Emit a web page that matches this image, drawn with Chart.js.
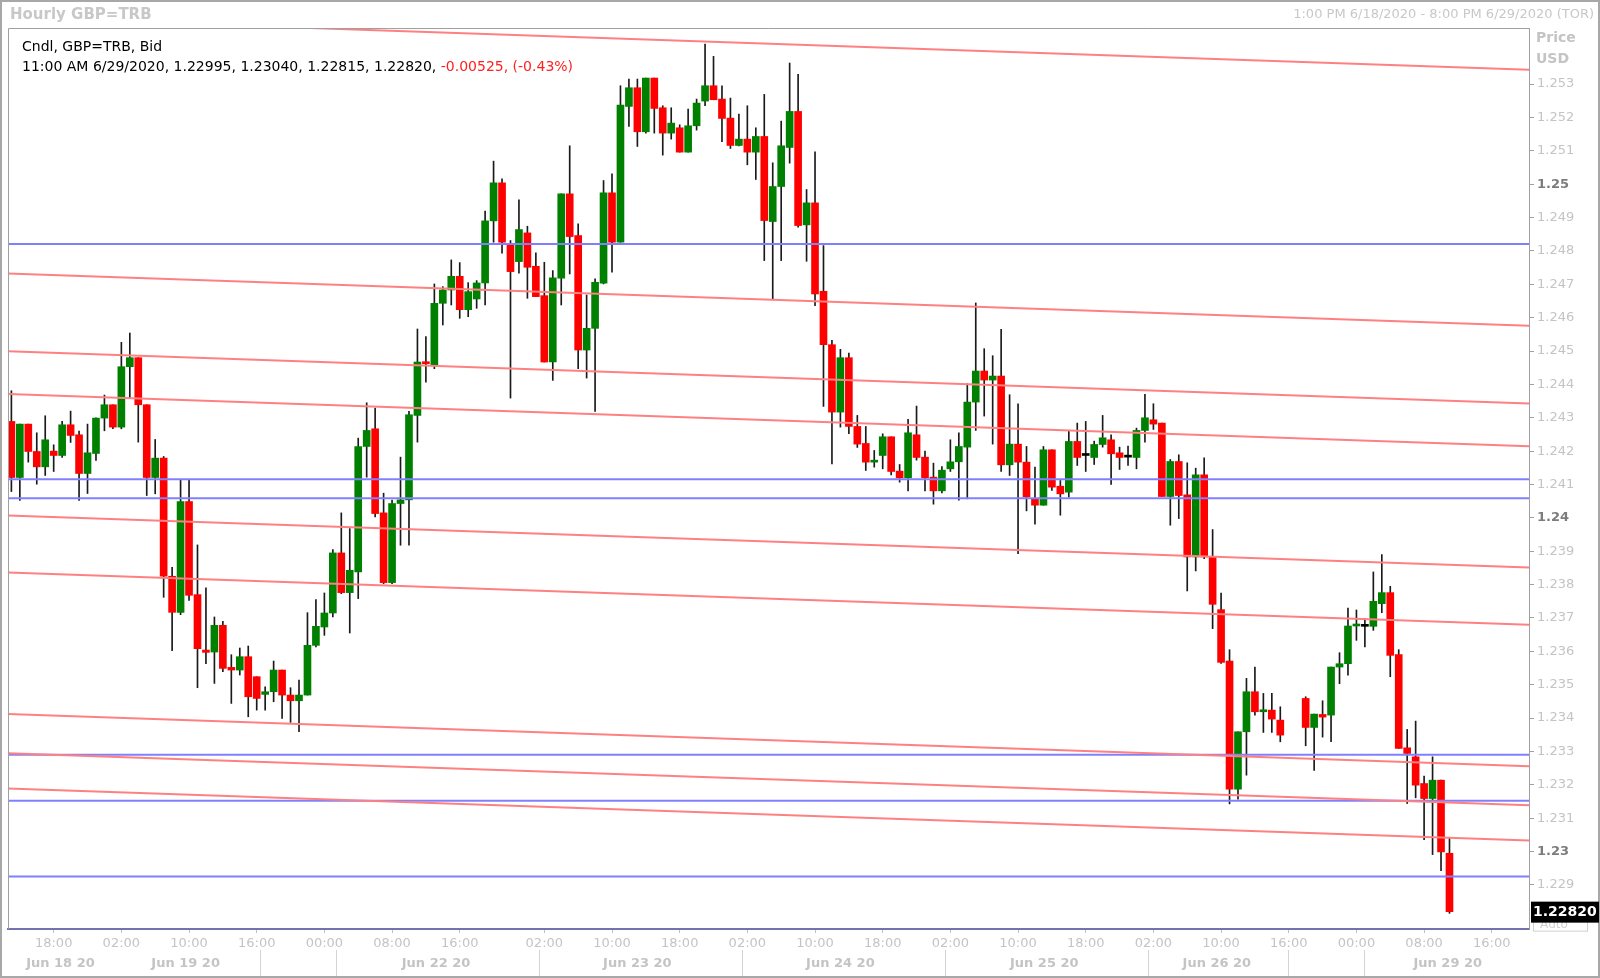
<!DOCTYPE html>
<html>
<head>
<meta charset="utf-8">
<script src="https://cdn.jsdelivr.net/npm/chart.js@4.4.1/dist/chart.umd.min.js"></script>
<style>
  html, body { margin: 0; padding: 0; background: #fff; }
</style>
</head>
<body>
<canvas id="chart" width="1600" height="978"></canvas>
<script>
// hourly GBP=TRB bid candles, one slot per hour (null = no bar)
const opens = [
  1.24289,1.24121,1.24281,1.24199,1.24153,1.24200,1.24187,1.24279,1.24249,1.24133,
  1.24193,1.24299,1.24339,1.24272,1.24453,1.24480,1.24339,1.24121,1.24179,1.23825,
  1.23717,1.24049,1.23770,1.23604,1.23598,1.23678,1.23552,1.23544,1.23584,1.23524,
  1.23471,1.23479,1.23544,1.23469,1.23452,1.23469,1.23618,1.23673,1.23715,1.23895,
  1.23776,1.23838,1.24214,1.24267,1.24015,1.23806,1.24043,1.24054,1.24307,1.24467,
  1.24459,1.24643,1.24683,1.24724,1.24624,1.24656,1.24704,1.24890,1.25004,1.24818,
  1.24768,1.24854,1.24754,1.24666,1.24467,1.24718,1.24971,1.24846,1.24503,1.24568,
  1.24703,1.24974,1.24826,1.25233,1.25289,1.25157,1.25318,1.25229,1.25153,1.25169,
  1.25096,1.25175,1.25249,1.25295,1.25255,1.25198,1.25116,1.25135,1.25096,1.25143,
  1.24888,1.24993,1.25110,1.25218,1.24878,1.24944,1.24679,1.24519,1.24317,1.24480,
  1.24274,1.24223,1.24167,1.24187,1.24243,1.24140,1.24120,1.24249,1.24182,1.24122,
  1.24081,1.24147,1.24168,1.24212,1.24347,1.24440,1.24413,1.24425,1.24159,1.24221,
  1.24167,1.24058,1.24038,1.24204,1.24095,1.24077,1.24229,1.24187,1.24181,1.24220,
  1.24234,1.24195,1.24182,1.24181,1.24262,1.24294,1.24284,1.24064,1.24169,1.24069,
  1.23883,1.24129,1.23883,1.23725,1.23571,1.23187,1.23359,1.23479,1.23419,1.23424,
  1.23394,null,null,1.23459,1.23372,1.23411,1.23409,1.23553,1.23563,1.23676,
  1.23675,1.23675,1.23743,1.23776,1.23590,1.23311,1.23284,1.23204,1.23159,1.23214,
  1.22995
];
const highs = [
  1.24381,1.24281,1.24281,1.24255,1.24306,1.24219,1.24289,1.24320,1.24260,1.24281,
  1.24300,1.24368,1.24339,1.24526,1.24554,1.24480,1.24339,1.24235,1.24184,1.23852,
  1.24113,1.24113,1.23919,1.23790,1.23703,1.23690,1.23590,1.23610,1.23616,1.23524,
  1.23494,1.23571,1.23544,1.23491,1.23514,1.23716,1.23755,1.23775,1.23905,1.24015,
  1.23968,1.24239,1.24345,1.24329,1.24074,1.24053,1.24182,1.24319,1.24566,1.24543,
  1.24701,1.24693,1.24773,1.24765,1.24705,1.24711,1.24919,1.25069,1.25016,1.24831,
  1.24953,1.24874,1.24794,1.24766,1.24741,1.24971,1.25115,1.24881,1.24668,1.24716,
  1.25011,1.25031,1.25295,1.25315,1.25315,1.25318,1.25318,1.25235,1.25229,1.25178,
  1.25225,1.25255,1.25420,1.25383,1.25295,1.25258,1.25210,1.25235,1.25169,1.25269,
  1.25064,1.25189,1.25363,1.25329,1.24984,1.25097,1.24816,1.24532,1.24505,1.24494,
  1.24307,1.24274,1.24202,1.24252,1.24243,1.24160,1.24295,1.24335,1.24200,1.24164,
  1.24154,1.24234,1.24255,1.24402,1.24644,1.24507,1.24486,1.24565,1.24369,1.24342,
  1.24214,1.24152,1.24214,1.24204,1.24112,1.24262,1.24284,1.24289,1.24230,1.24307,
  1.24249,1.24212,1.24215,1.24269,1.24370,1.24342,1.24284,1.24175,1.24189,1.24165,
  1.24149,1.24180,1.23965,1.23775,1.23605,1.23359,1.23519,1.23553,1.23474,1.23474,
  1.23434,null,null,1.23464,1.23412,1.23452,1.23553,1.23596,1.23730,1.23724,
  1.23698,1.23838,1.23890,1.23795,1.23605,1.23366,1.23391,1.23226,1.23284,1.23214,
  1.23040
];
const lows = [
  1.24079,1.24052,1.24167,1.24101,1.24127,1.24139,1.24181,1.24226,1.24052,1.24073,
  1.24172,1.24261,1.24267,1.24267,1.24358,1.24227,1.24067,1.24072,1.23762,1.23602,
  1.23710,1.23753,1.23491,1.23563,1.23504,1.23539,1.23444,1.23529,1.23404,1.23424,
  1.23424,1.23449,1.23399,1.23387,1.23359,1.23469,1.23613,1.23648,1.23703,1.23773,
  1.23655,1.23758,1.24122,1.24003,1.23803,1.23803,1.23918,1.23918,1.24227,1.24407,
  1.24447,1.24578,1.24638,1.24598,1.24603,1.24628,1.24638,1.24826,1.24793,1.24359,
  1.24733,1.24658,1.24663,1.24467,1.24412,1.24638,1.24731,1.24447,1.24419,1.24319,
  1.24701,1.24736,1.24826,1.25173,1.25113,1.25153,1.25153,1.25087,1.25135,1.25096,
  1.25096,1.25162,1.25235,1.25253,1.25127,1.25107,1.25115,1.25058,1.25014,1.24771,
  1.24656,1.24771,1.25063,1.24871,1.24769,1.24636,1.24334,1.24162,1.24272,1.24252,
  1.24211,1.24142,1.24152,1.24147,1.24129,1.24107,1.24081,1.24173,1.24081,1.24041,
  1.24075,1.24139,1.24053,1.24057,1.24262,1.24305,1.24221,1.24139,1.24127,1.23893,
  1.24021,1.23981,1.24038,1.24082,1.24008,1.24062,1.24157,1.24139,1.24160,1.24212,
  1.24100,1.24145,1.24157,1.24147,1.24227,1.24265,1.24064,1.23978,1.23998,1.23781,
  1.23841,1.23878,1.23668,1.23564,1.23143,1.23157,1.23229,1.23409,1.23357,1.23357,
  1.23329,null,null,1.23317,1.23243,1.23343,1.23329,1.23503,1.23529,1.23633,
  1.23613,1.23663,1.23716,1.23524,1.23309,1.23144,1.23161,1.23036,1.22991,1.22943,
  1.22815
];
const closes = [
  1.24121,1.24281,1.24199,1.24153,1.24234,1.24187,1.24279,1.24247,1.24133,1.24195,
  1.24299,1.24339,1.24272,1.24453,1.24480,1.24339,1.24121,1.24179,1.23825,1.23717,
  1.24049,1.23768,1.23608,1.23597,1.23678,1.23549,1.23544,1.23584,1.23464,1.23459,
  1.23479,1.23544,1.23469,1.23452,1.23469,1.23618,1.23675,1.23715,1.23895,1.23776,
  1.23843,1.24214,1.24262,1.24013,1.23806,1.24043,1.24054,1.24309,1.24467,1.24462,
  1.24643,1.24683,1.24724,1.24624,1.24678,1.24704,1.24890,1.25004,1.24826,1.24738,
  1.24864,1.24751,1.24663,1.24467,1.24719,1.24971,1.24843,1.24503,1.24568,1.24706,
  1.24974,1.24826,1.25237,1.25289,1.25157,1.25318,1.25227,1.25153,1.25183,1.25096,
  1.25175,1.25243,1.25295,1.25253,1.25197,1.25116,1.25135,1.25096,1.25143,1.24891,
  1.24993,1.25115,1.25218,1.24876,1.24944,1.24671,1.24519,1.24317,1.24480,1.24274,
  1.24221,1.24167,1.24173,1.24243,1.24139,1.24120,1.24255,1.24181,1.24120,1.24081,
  1.24143,1.24168,1.24214,1.24347,1.24440,1.24413,1.24425,1.24159,1.24221,1.24167,
  1.24063,1.24038,1.24204,1.24092,1.24072,1.24229,1.24181,1.24187,1.24220,1.24240,
  1.24192,1.24181,1.24182,1.24262,1.24300,1.24281,1.24064,1.24169,1.24067,1.23883,
  1.24129,1.23883,1.23741,1.23567,1.23187,1.23359,1.23479,1.23419,1.23424,1.23397,
  1.23349,null,null,1.23372,1.23412,1.23403,1.23553,1.23563,1.23676,1.23678,
  1.23675,1.23750,1.23776,1.23588,1.23309,1.23294,1.23199,1.23159,1.23214,1.22999,
  1.22820
];

// drawn levels: horizontal (blue) and falling channel lines (red, price at left / right edge)
const levels = [1.24821, 1.24116, 1.24059, 1.23290, 1.23152, 1.22925];
const trendStart = [1.25499, 1.24732, 1.24499, 1.24371, 1.24007, 1.23836, 1.23412, 1.23295, 1.23189];
const trendEnd   = [1.25343, 1.24576, 1.24343, 1.24215, 1.23851, 1.23680, 1.23256, 1.23139, 1.23033];

// axis labels
const timeSlots  = [5, 13, 21, 29, 37, 45, 53, 63, 71, 79, 87, 95, 103, 111, 119, 127, 135, 143, 151, 159, 167, 175];
const timeLabels = ['18:00','02:00','10:00','16:00','00:00','08:00','16:00','02:00','10:00','18:00','02:00',
                    '10:00','18:00','02:00','10:00','18:00','02:00','10:00','16:00','00:00','08:00','16:00'];
const dateSlots  = [5.8, 20.6, 50.2, 74, 98, 122.1, 142.5, 169.8];
const dateLabels = ['Jun 18 20','Jun 19 20','Jun 22 20','Jun 23 20','Jun 24 20','Jun 25 20','Jun 26 20','Jun 29 20'];
const daySeps    = [29.4, 38.4, 62.4, 86.4, 110.4, 134.4, 151, 160];
const priceTicks = [1.229,1.230,1.231,1.232,1.233,1.234,1.235,1.236,1.237,1.238,1.239,1.240,1.241,
                    1.242,1.243,1.244,1.245,1.246,1.247,1.248,1.249,1.250,1.251,1.252,1.253];

const lastTime = '11:00 AM 6/29/2020';
const lastChange = '-0.00525, (-0.43%)';

const xMin = -0.4, xMax = 179.4;
const yMin = 1.22768, yMax = 1.25468;
const FONT = '"DejaVu Sans", Verdana, sans-serif';

const candles = [];
opens.forEach((o, i) => {
  if (o === null) return;
  candles.push({ x: i, o: o, h: highs[i], l: lows[i], c: closes[i] });
});
const bodyColors = candles.map(k => k.c > k.o ? '#008000' : (k.c < k.o ? '#ff0000' : '#000000'));

const datasets = [];
trendStart.forEach((p, i) => {
  datasets.push({
    type: 'line', order: 0,
    data: [{ x: xMin, y: p }, { x: xMax, y: trendEnd[i] }],
    borderColor: '#ff8080', borderWidth: 2, pointRadius: 0
  });
});
levels.forEach(p => {
  datasets.push({
    type: 'line', order: 0,
    data: [{ x: xMin, y: p }, { x: xMax, y: p }],
    borderColor: '#8080ff', borderWidth: 2, pointRadius: 0
  });
});
datasets.push({
  type: 'bar', order: 1, grouped: false,
  data: candles.map(k => ({ x: k.x, y: [k.o, k.c] })),
  backgroundColor: bodyColors, barThickness: 7, minBarLength: 2
});
datasets.push({
  type: 'bar', order: 2, grouped: false,
  data: candles.map(k => ({ x: k.x, y: [k.l, k.h] })),
  backgroundColor: '#1a1a1a', barThickness: 1
});

const isMajor = v => Math.abs(v * 100 - Math.round(v * 100)) < 1e-7;
const tickMajor = ctx => !!(ctx && ctx.tick && isMajor(ctx.tick.value));

const decor = {
  id: 'decor',
  beforeDraw(chart) {
    const ctx = chart.ctx;
    ctx.save();
    ctx.fillStyle = '#ffffff';
    ctx.fillRect(0, 0, chart.width, chart.height);
    ctx.restore();
  },
  afterDraw(chart) {
    const { ctx, chartArea: a } = chart;
    const y = chart.scales.y;
    ctx.save();
    // outer frame and plot frame
    ctx.strokeStyle = '#a8a8a8';
    ctx.lineWidth = 2;
    ctx.strokeRect(1, 1, chart.width - 2, chart.height - 2);
    ctx.lineWidth = 1;
    ctx.strokeStyle = '#a0a0a0';
    ctx.beginPath();
    ctx.moveTo(a.left + 0.5, a.bottom);
    ctx.lineTo(a.left + 0.5, a.top + 0.5);
    ctx.lineTo(a.right, a.top + 0.5);
    ctx.stroke();

    // title bar
    ctx.textBaseline = 'middle';
    ctx.fillStyle = '#c8c8c8';
    ctx.font = 'bold 15px ' + FONT;
    ctx.textAlign = 'left';
    ctx.fillText('Hourly GBP=TRB', 10, 15);
    ctx.font = '13px ' + FONT;
    ctx.textAlign = 'right';
    ctx.fillText('1:00 PM 6/18/2020 - 8:00 PM 6/29/2020 (TOR)', 1594, 15);

    // data header inside the plot
    const n = opens.length - 1;
    ctx.textAlign = 'left';
    ctx.fillStyle = '#000000';
    ctx.font = '14px ' + FONT;
    ctx.fillText('Cndl, GBP=TRB, Bid', 22, 47);
    const head = lastTime + ', ' + [opens[n], highs[n], lows[n], closes[n]].map(v => v.toFixed(5)).join(', ') + ', ';
    ctx.fillText(head, 22, 67.5);
    ctx.fillStyle = '#ff2020';
    ctx.fillText(lastChange, 22 + ctx.measureText(head).width, 67.5);

    // axis header
    ctx.fillStyle = '#c4c4c4';
    ctx.font = 'bold 14px ' + FONT;
    ctx.fillText('Price', 1536, 38);
    ctx.fillText('USD', 1536, 59);

    // last price marker
    const py = y.getPixelForValue(closes[n]);
    ctx.strokeStyle = '#d0d0d0';
    ctx.strokeRect(1533.5, py + 4.5, 54, 15);
    ctx.fillStyle = '#d0d0d0';
    ctx.font = '12px ' + FONT;
    ctx.fillText('Auto', 1540, py + 13);
    ctx.fillStyle = '#000000';
    ctx.fillRect(1531, py - 10, 68, 21);
    ctx.fillStyle = '#ffffff';
    ctx.font = 'bold 14px ' + FONT;
    ctx.fillText(closes[n].toFixed(5), 1533, py + 0.5);
    ctx.restore();
  }
};

new Chart(document.getElementById('chart'), {
  type: 'bar',
  data: { datasets: datasets },
  plugins: [decor],
  options: {
    responsive: false,
    devicePixelRatio: 1,
    animation: false,
    layout: { padding: { left: 8, top: 28, right: 0, bottom: 0 } },
    plugins: { legend: { display: false }, tooltip: { enabled: false } },
    scales: {
      x: {
        type: 'linear', position: 'bottom', min: xMin, max: xMax, offset: false,
        afterBuildTicks: s => { s.ticks = timeSlots.map(v => ({ value: v })); },
        afterFit: s => { s.height = 21; },
        grid: { offset: false, drawOnChartArea: false, drawTicks: true, tickLength: 4, color: '#c0c0c0' },
        border: { display: true, color: '#7272b0', width: 2 },
        ticks: {
          autoSkip: false, maxRotation: 0, padding: 3,
          color: '#c4c4c4', font: { family: FONT, size: 13 },
          callback: (v, i) => timeLabels[i]
        }
      },
      x2: {
        type: 'linear', position: 'bottom', min: xMin, max: xMax, offset: false,
        afterBuildTicks: s => {
          s.ticks = dateSlots.concat(daySeps).sort((p, q) => p - q).map(v => ({ value: v }));
        },
        afterFit: s => { s.height = 28; },
        grid: {
          offset: false, drawOnChartArea: false, drawTicks: true, tickLength: 28,
          color: ctx => (ctx && ctx.tick && daySeps.includes(ctx.tick.value)) ? '#d4d4d4' : 'rgba(0,0,0,0)'
        },
        border: { display: false },
        ticks: {
          autoSkip: false, maxRotation: 0, padding: -22,
          color: '#c4c4c4', font: { family: FONT, size: 13, weight: 'bold' },
          callback: v => { const k = dateSlots.indexOf(v); return k >= 0 ? dateLabels[k] : ''; }
        }
      },
      y: {
        position: 'right', min: yMin, max: yMax,
        afterBuildTicks: s => { s.ticks = priceTicks.map(v => ({ value: v })); },
        afterFit: s => { s.width = 71; },
        grid: { drawOnChartArea: false, drawTicks: true, tickLength: 5, color: '#a0a0a0' },
        border: { display: true, color: '#a0a0a0', width: 1 },
        ticks: {
          autoSkip: false, padding: 3,
          color: ctx => tickMajor(ctx) ? '#7c7c7c' : '#c4c4c4',
          font: ctx => ({ family: FONT, size: 13, weight: tickMajor(ctx) ? 'bold' : 'normal' }),
          callback: v => String(Number(v.toFixed(3)))
        }
      }
    }
  }
});
</script>
</body>
</html>
